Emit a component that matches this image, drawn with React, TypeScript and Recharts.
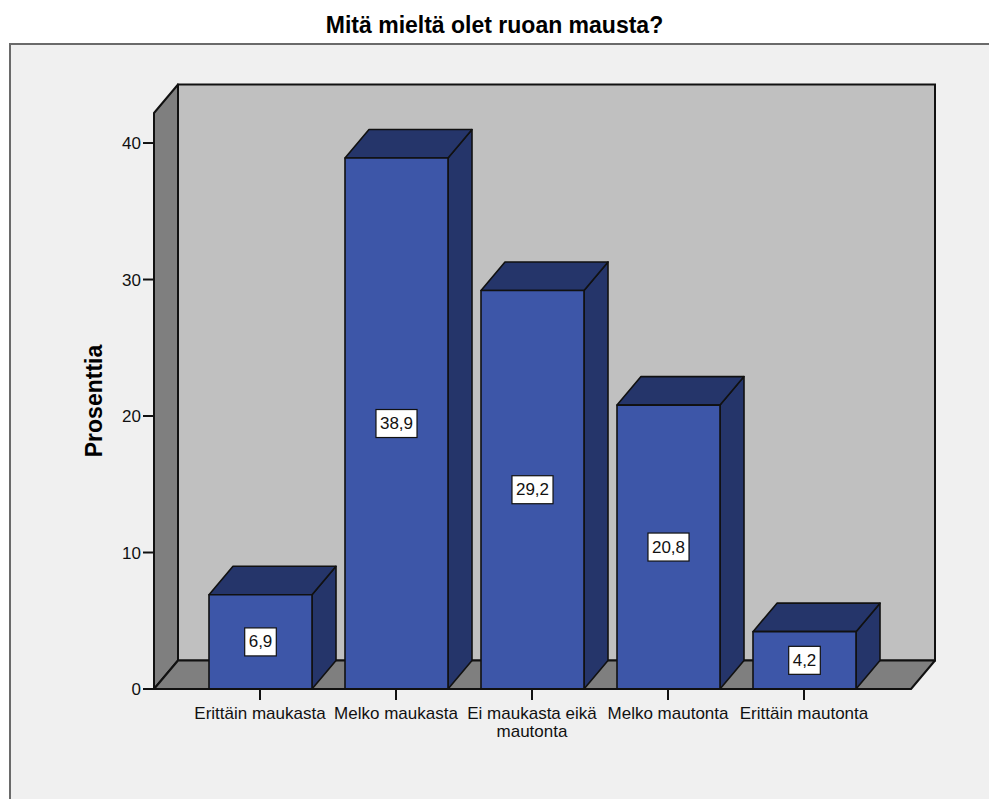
import { Bar, BarChart, LabelList, Text, XAxis, YAxis } from 'recharts';

const categories = [
  'Erittäin maukasta',
  'Melko maukasta',
  'Ei maukasta eikä mautonta',
  'Melko mautonta',
  'Erittäin mautonta',
];
const percents = [6.9, 38.9, 29.2, 20.8, 4.2];
const yTicks = [0, 10, 20, 30, 40];
const yMax = 42.2;

const data = categories.map((name, i) => ({ name, value: percents[i] }));

const FONT = '"Liberation Sans", Arial, sans-serif';
const W = 989;
const H = 799;
const MARGIN = { top: 113, right: 78, bottom: 50, left: 89 };
const Y_AXIS_W = 65;
const X_AXIS_H = 60;

// plot box, used for the 3D walls behind the bars
const PX = MARGIN.left + Y_AXIS_W;
const PY = MARGIN.top;
const PW = W - PX - MARGIN.right;
const PH = H - MARGIN.top - MARGIN.bottom - X_AXIS_H;

// depth of the 3D extrusion
const DX = 24;
const DY = 28.5;

const FRONT = '#3d56a8';
const SHADE = '#25356a';
const EDGE = '#111';

const Walls = () => {
  const bx = PX + DX;
  const by = PY - DY;
  return (
    <svg width={W} height={H} style={{ position: 'absolute', left: 0, top: 0 }}>
      <rect x={bx} y={by} width={PW} height={PH} fill="#c0c0c0" stroke={EDGE} strokeWidth={2} />
      <polygon
        points={`${PX},${PY} ${bx},${by} ${bx},${by + PH} ${PX},${PY + PH}`}
        fill="#7f7f7f"
        stroke={EDGE}
        strokeWidth={2}
        strokeLinejoin="round"
      />
      <polygon
        points={`${PX},${PY + PH} ${bx},${by + PH} ${bx + PW},${by + PH} ${PX + PW},${PY + PH}`}
        fill="#7f7f7f"
        stroke={EDGE}
        strokeWidth={2}
        strokeLinejoin="round"
      />
    </svg>
  );
};

const Bar3D = (props: any) => {
  const { x, y, width: w, height: h } = props;
  const top = `${x},${y} ${x + DX},${y - DY} ${x + w + DX},${y - DY} ${x + w},${y}`;
  const side = `${x + w},${y} ${x + w + DX},${y - DY} ${x + w + DX},${y + h - DY} ${x + w},${y + h}`;
  return (
    <g stroke={EDGE} strokeWidth={1.6} strokeLinejoin="round">
      <polygon points={side} fill={SHADE} />
      <polygon points={top} fill={SHADE} />
      <rect x={x} y={y} width={w} height={h} fill={FRONT} />
    </g>
  );
};

const ValueBox = (props: any) => {
  const { x, y, width, height, value } = props;
  const txt = Number(value).toFixed(1).replace('.', ',');
  const boxW = txt.replace(',', '').length * 9.45 + 4.7 + 8;
  const cx = x + width / 2;
  const cy = y + height / 2;
  return (
    <g>
      <rect x={cx - boxW / 2} y={cy - 14} width={boxW} height={28} fill="#fff" stroke={EDGE} strokeWidth={1.2} />
      <text
        x={cx}
        y={cy}
        textAnchor="middle"
        dominantBaseline="central"
        fontFamily={FONT}
        fontSize={17}
        fill="#111"
      >
        {txt}
      </text>
    </g>
  );
};

const CategoryTick = (props: any) => {
  const { x, y, payload } = props;
  return (
    <Text
      x={x}
      y={y}
      width={140}
      textAnchor="middle"
      verticalAnchor="start"
      lineHeight="18px"
      fill="#111"
      style={{ fontSize: 17, fontFamily: FONT }}
    >
      {payload.value}
    </Text>
  );
};

const YTitle = (props: any) => {
  const vb = props.viewBox;
  const cx = vb.x + 5;
  const cy = vb.y + vb.height / 2;
  return (
    <text
      transform={`translate(${cx}, ${cy}) rotate(-90)`}
      textAnchor="middle"
      dominantBaseline="central"
      fontFamily={FONT}
      fontWeight="bold"
      fontSize={23}
      fill="#000"
    >
      Prosenttia
    </text>
  );
};

export default function App() {
  return (
    <div style={{ position: 'absolute', left: 0, top: 0, width: W, height: H, background: '#fff', fontFamily: FONT }}>
      <div
        style={{
          position: 'absolute',
          left: 0,
          top: 12,
          width: W,
          textAlign: 'center',
          fontSize: 23,
          fontWeight: 'bold',
          color: '#000',
        }}
      >
        Mitä mieltä olet ruoan mausta?
      </div>
      <div
        style={{
          position: 'absolute',
          left: 9,
          top: 43,
          width: W - 9,
          height: H - 43,
          boxSizing: 'border-box',
          borderLeft: '2px solid #6a6a6a',
          borderTop: '2px solid #6a6a6a',
          background: '#f0f0f0',
        }}
      />
      <Walls />
      <div style={{ position: 'absolute', left: 0, top: 0 }}>
        <BarChart width={W} height={H} data={data} margin={MARGIN}>
          <XAxis
            dataKey="name"
            height={X_AXIS_H}
            padding={{ left: 38, right: 39 }}
            tick={<CategoryTick />}
            tickSize={11}
            tickMargin={7}
            interval={0}
            axisLine={{ stroke: EDGE, strokeWidth: 2 }}
            tickLine={{ stroke: EDGE, strokeWidth: 2 }}
          />
          <YAxis
            width={Y_AXIS_W}
            domain={[0, yMax]}
            ticks={yTicks}
            tickSize={11}
            tickMargin={2}
            tick={{ fontSize: 17, fill: '#111', fontFamily: FONT }}
            axisLine={{ stroke: EDGE, strokeWidth: 2 }}
            tickLine={{ stroke: EDGE, strokeWidth: 2 }}
            label={<YTitle />}
          />
          <Bar dataKey="value" barSize={103} shape={<Bar3D />} isAnimationActive={false}>
            <LabelList dataKey="value" content={<ValueBox />} />
          </Bar>
        </BarChart>
      </div>
    </div>
  );
}
